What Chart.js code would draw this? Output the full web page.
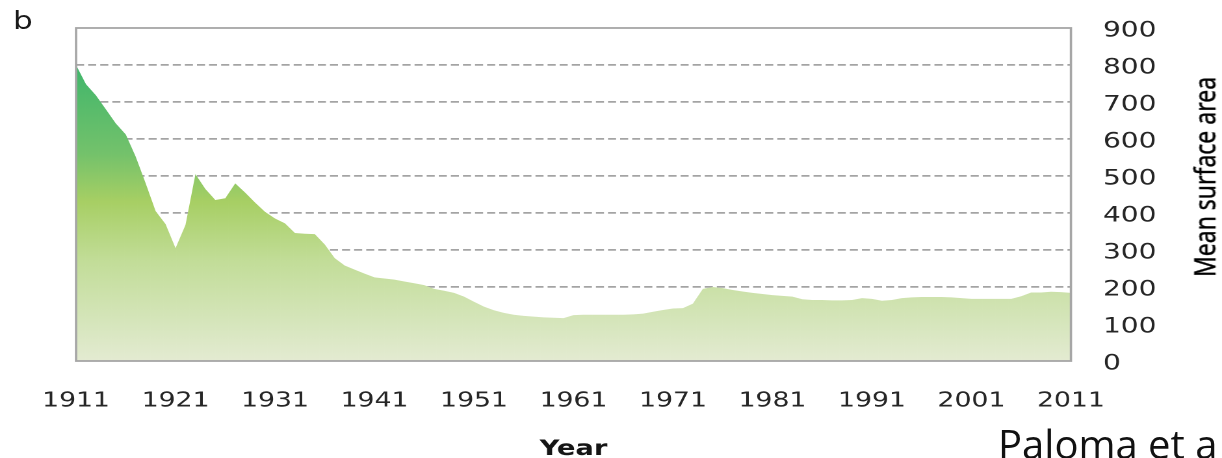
<!DOCTYPE html>
<html><head><meta charset="utf-8">
<script src="https://cdn.jsdelivr.net/npm/chart.js@4.4.1/dist/chart.umd.min.js"></script>
<style>
html,body{margin:0;padding:0;background:#fff;width:1222px;height:458px;overflow:hidden;position:relative}
#wrap{position:absolute;left:0;top:0;width:940px;height:458px;transform:scaleX(1.3);transform-origin:0 0}
#c{position:absolute;left:0;top:0}
#panel{position:absolute;left:10px;top:9px;font:24px 'DejaVu Sans';line-height:1;color:#1a1a1a}
#ytitle{position:absolute;left:926px;top:177px;transform:translate(-50%,-50%) rotate(-90deg);white-space:nowrap;font-family:'Liberation Sans Narrow','Noto Sans',sans-serif;color:#000;line-height:1;-webkit-text-stroke:0.35px #000}
#cite{position:absolute;left:998px;top:424px;font:40px 'Open Sans';line-height:1;white-space:nowrap;color:#111}
</style></head>
<body>
<div id="wrap"><canvas id="c" width="940" height="458"></canvas><div id="panel">b</div><div id="ytitle">Mean surface area</div></div>
<div id="cite">Paloma et a</div>
<script>
const years = [1911,1912,1913,1914,1915,1916,1917,1918,1919,1920,
  1921,1922,1923,1924,1925,1926,1927,1928,1929,1930,
  1931,1932,1933,1934,1935,1936,1937,1938,1939,1940,
  1941,1942,1943,1944,1945,1946,1947,1948,1949,1950,
  1951,1952,1953,1954,1955,1956,1957,1958,1959,1960,
  1961,1962,1963,1964,1965,1966,1967,1968,1969,1970,
  1971,1972,1973,1974,1975,1976,1977,1978,1979,1980,
  1981,1982,1983,1984,1985,1986,1987,1988,1989,1990,
  1991,1992,1993,1994,1995,1996,1997,1998,1999,2000,
  2001,2002,2003,2004,2005,2006,2007,2008,2009,2010,2011];
const surfaceArea = [800,748,718,680,642,612,552,480,405,370,
  305,368,505,465,435,440,480,455,428,403,
  385,372,346,344,343,315,278,258,247,236,
  226,223,220,215,210,205,195,190,184,174,
  160,147,137,130,125,122,120,118,117,116,
  124,125,125,125,125,125,126,128,133,138,
  142,143,155,195,200,197,192,188,184,181,
  178,176,174,167,165,165,164,164,165,170,
  168,163,165,170,172,173,173,173,172,170,
  168,168,168,168,168,175,185,185,187,186,184];
const xTickYears = [1911,1921,1931,1941,1951,1961,1971,1981,1991,2001,2011];
const yTickValues = [0,100,200,300,400,500,600,700,800,900];
const xTitle = 'Year';

Chart.defaults.font.family = "'DejaVu Sans', Verdana, sans-serif";

const points = years.map((yr, i) => ({x: yr, y: surfaceArea[i]}));

const framePlugin = {
  id: 'frame',
  afterDatasetsDraw(chart) {
    const {ctx, chartArea: a} = chart;
    ctx.save();
    ctx.strokeStyle = '#a6a6a6';
    ctx.lineWidth = 1.8;
    ctx.strokeRect(a.left, a.top, a.right - a.left, a.bottom - a.top);
    ctx.restore();
  }
};

new Chart(document.getElementById('c'), {
  type: 'line',
  data: {
    datasets: [{
      data: points,
      fill: 'origin',
      borderWidth: 0,
      borderColor: 'rgba(0,0,0,0)',
      pointRadius: 0,
      tension: 0,
      backgroundColor: (ctx) => {
        const chart = ctx.chart;
        const {chartArea, scales} = chart;
        if (!chartArea) return '#a8cf62';
        const y0 = scales.y.getPixelForValue(800);
        const y1 = chartArea.bottom;
        const g = chart.ctx.createLinearGradient(0, y0, 0, y1);
        g.addColorStop(0, '#3fb66b');
        g.addColorStop(0.3, '#74c26b');
        g.addColorStop(0.46, '#a7cf64');
        g.addColorStop(0.66, '#c2dd98');
        g.addColorStop(0.9, '#d9e7c1');
        g.addColorStop(1, '#e4ebd2');
        return g;
      }
    }]
  },
  options: {
    responsive: false,
    devicePixelRatio: 2,
    animation: false,
    layout: {padding: {left: 58.5, top: 28, right: 0, bottom: 0}},
    plugins: {legend: {display: false}, tooltip: {enabled: false}},
    scales: {
      x: {
        type: 'linear',
        min: 1911, max: 2011,
        afterBuildTicks: (s) => { s.ticks = xTickYears.map(v => ({value: v})); },
        afterFit: (s) => { s.height = 97; },
        grid: {display: false, drawTicks: false},
        border: {display: false},
        ticks: {
          autoSkip: false, maxRotation: 0, minRotation: 0,
          padding: 28,
          color: '#262626',
          font: {size: 20.5},
          callback: (v) => String(v)
        },
        title: {
          display: true, text: xTitle,
          color: '#151515',
          font: {size: 21, weight: 'bold', lineHeight: 1.0},
          padding: {top: 0, bottom: -2}
        }
      },
      y: {
        position: 'right',
        min: 0, max: 900,
        afterBuildTicks: (s) => { s.ticks = yTickValues.map(v => ({value: v})); },
        afterFit: (s) => { s.width = 940 - 823.8; },
        grid: {
          drawTicks: true,
          tickLength: 19.7,
          tickColor: 'rgba(0,0,0,0)',
          lineWidth: 1.7,
          color: (c) => (c.tick && (c.tick.value === 0 || c.tick.value === 900)) ? 'rgba(0,0,0,0)' : '#a4a4a4',
          borderDash: [6.2, 3.1]
        },
        border: {display: false, dash: [6.2, 3.1]},
        ticks: {
          padding: 5,
          labelOffset: 3,
          color: '#262626',
          font: {size: 21.5},
          callback: (v) => String(v)
        }
      }
    }
  },
  plugins: [framePlugin]
});

// fit the rotated axis title to the reference length
(function(){
  const el = document.getElementById('ytitle');
  const cs = getComputedStyle(el);
  const cnv = document.createElement('canvas').getContext('2d');
  cnv.font = '30px ' + cs.fontFamily;
  const w = cnv.measureText(el.textContent).width;
  el.style.fontSize = (30 * 200 / w).toFixed(2) + 'px';
})();
</script>
</body></html>
